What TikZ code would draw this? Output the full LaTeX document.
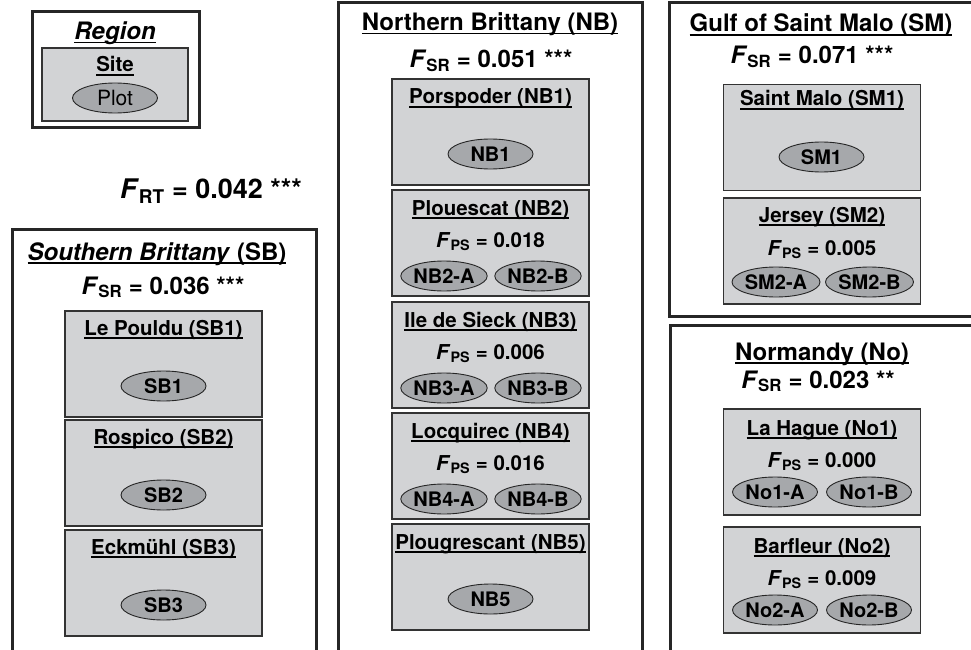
\documentclass[tikz,border=0pt]{standalone}
\usepackage{fontspec}
\setmainfont{TeX Gyre Heros}
\usetikzlibrary{shapes.geometric}

\definecolor{sitefill}{RGB}{210,211,213}
\definecolor{plotfill}{RGB}{166,168,171}
% underlined title, rule set just under the baseline
\newcommand{\ulined}[1]{\setbox0=\hbox{#1}\rlap{\rule[-3.8pt]{\wd0}{1.7pt}}\box0}
\newcommand{\fstat}[1]{\textit{F}\textsubscript{#1}}

\begin{document}
\begin{tikzpicture}[x=1pt, y=-1pt, font=\bfseries,
  rg/.style={draw=black!85, line width=3pt, inner sep=0pt},
  si/.style={draw=black!80, line width=1.9pt, fill=sitefill, inner sep=0pt,
             minimum width=197pt, minimum height=106pt},
  rt/.style={font=\fontsize{24}{28}\selectfont\bfseries, anchor=base, inner sep=0pt},
  stx/.style={font=\fontsize{20.5}{24}\selectfont\bfseries, anchor=base, inner sep=0pt},
  pl/.style={ellipse, draw=black!85, line width=0.9pt, fill=plotfill, inner sep=0pt,
             minimum width=85pt, minimum height=30pt, font=\fontsize{20}{24}\selectfont\bfseries}
]
\clip (0,0) rectangle (971,650);

% legend
\node[rg, minimum width=167pt, minimum height=116pt] (leg) at (115.5,70) {};
\node[si, line width=1.2pt, minimum width=146pt, minimum height=73pt] (legsite) at (115,84.5) {};
\node[rt, font=\fontsize{24}{28}\selectfont\bfseries\itshape] (legreg) at (115,39.5) {\ulined{Region}};
\node[stx] (legsitet) at (115,72) {\ulined{Site}};
\node[pl, font=\fontsize{21}{24}\selectfont] (legplot) at (115,98) {Plot};

\node[rt, font=\fontsize{27}{32}\selectfont\bfseries] (frt) at (211,198) {\fstat{RT} = 0.042 ***};

% Southern Brittany
\node[rg, minimum width=304pt, minimum height=480pt] (sb) at (164,469) {};
\node[rt] (sbt) at (157,260) {\ulined{\textit{Southern Brittany} (SB)}};
\node[rt] (sbf) at (163,294) {\fstat{SR} = 0.036 ***};
\foreach \s/\t/\ttl in {1/311/Le Pouldu, 2/420/Rospico, 3/530/Eckmühl} {
  \node[si] (sb\s) at (163.5,\t+53) {};
  \node[stx] (sbt\s) at (163.5,\t+24) {\ulined{\ttl\ (SB\s)}};
  \node[pl] (sbp\s) at (163.5,\t+75) {SB\s};
}

% Northern Brittany
\node[rg, minimum width=304pt, minimum height=700pt] (nb) at (490,353) {};
\node[rt] (nbt) at (490,30.5) {\ulined{Northern Brittany (NB)}};
\node[rt] (nbf) at (491,68) {\fstat{SR} = 0.051 ***};
\foreach \s/\t/\ttl in {1/79/Porspoder, 5/524/Plougrescant} {
  \node[si] (nb\s) at (490.5,\t+53) {};
  \node[stx] (nbt\s) at (490.5,\t+25) {\ulined{\ttl\ (NB\s)}};
  \node[pl] (nbp\s) at (490.5,\t+75) {NB\s};
}
\foreach \s/\t/\ttl/\fv in {2/190/Plouescat/0.018, 3/302/Ile de Sieck/0.006, 4/413/Locquirec/0.016} {
  \node[si] (nb\s) at (490.5,\t+53) {};
  \node[stx] (nbt\s) at (490.5,\t+25) {\ulined{\ttl\ (NB\s)}};
  \node[stx] (nbf\s) at (490.5,\t+57) {\fstat{PS} = \fv};
  \node[pl] (nbp\s a) at (444,\t+86) {NB\s-A};
  \node[pl] (nbp\s b) at (538,\t+86) {NB\s-B};
}

% Gulf of Saint Malo
\node[rg, minimum width=330pt, minimum height=313pt] (sm) at (834,159.5) {};
\node[rt] (smt) at (821,32) {\ulined{Gulf of Saint Malo (SM)}};
\node[rt] (smf) at (812,64) {\fstat{SR} = 0.071 ***};
\node[si] (sm1) at (822,137.5) {};
\node[stx] (smt1) at (822,106) {\ulined{Saint Malo (SM1)}};
\node[pl] (smp1) at (821.5,157) {SM1};
\node[si] (sm2) at (822,251) {};
\node[stx] (smt2) at (822,222) {\ulined{Jersey (SM2)}};
\node[stx] (smf2) at (822,255) {\fstat{PS} = 0.005};
\node[pl] (smp2a) at (776,282) {SM2-A};
\node[pl] (smp2b) at (869.5,282) {SM2-B};

% Normandy
\node[rg, minimum width=330pt, minimum height=400pt] (no) at (835,525) {};
\node[rt] (not) at (822,360) {\ulined{Normandy (No)}};
\node[rt] (nof) at (818,388) {\fstat{SR} = 0.023 **};
\foreach \s/\t/\fv/\ttl in {1/409/0.000/La Hague, 2/527/0.009/Barfleur} {
  \node[si] (no\s) at (822,\t+53) {};
  \node[stx] (notl\s) at (822,\t+26) {\ulined{\ttl\ (No\s)}};
  \node[stx] (nof\s) at (822,\t+58) {\fstat{PS} = \fv};
  \node[pl] (nop\s a) at (775,\t+83) {No\s-A};
  \node[pl] (nop\s b) at (869,\t+83) {No\s-B};
}
\end{tikzpicture}
\end{document}
